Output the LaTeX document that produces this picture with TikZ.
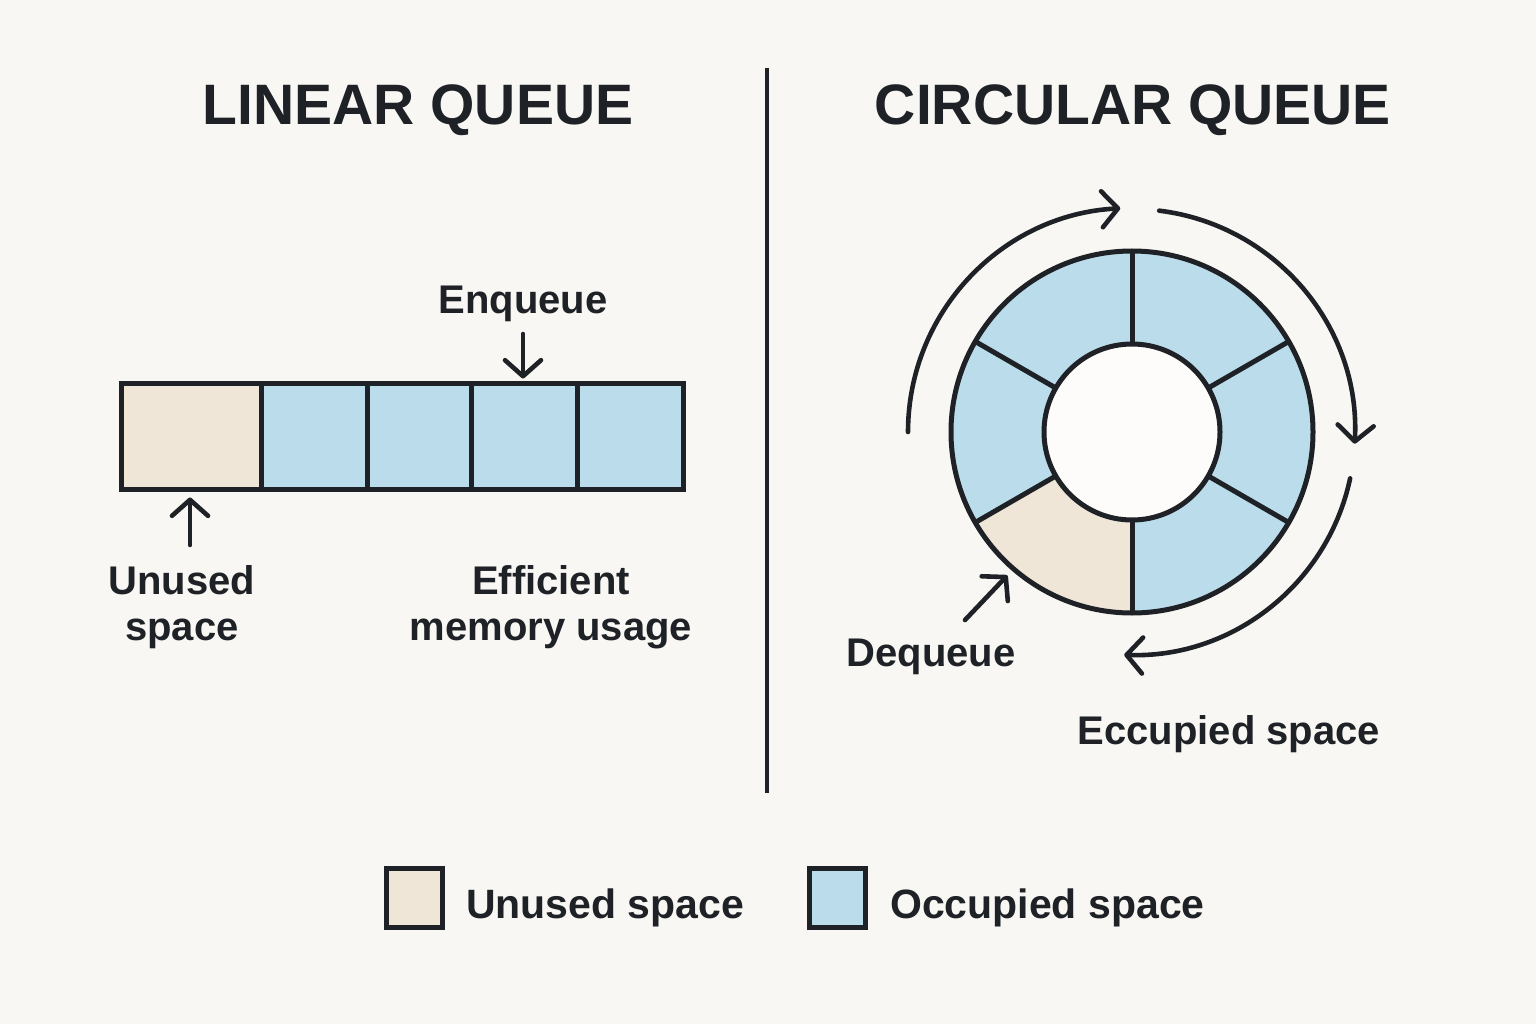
\documentclass[tikz,border=0pt]{standalone}
\usepackage{fontspec}
\setmainfont{Liberation Sans}
\usetikzlibrary{arrows.meta,calc}
\definecolor{bg}{HTML}{F9F7F3}
\definecolor{ink}{HTML}{1E2226}
\definecolor{unusedc}{HTML}{EFE6D8}
\definecolor{occc}{HTML}{BBDCEA}
\begin{document}
\begin{tikzpicture}[x=1pt,y=1pt,
  ln/.style={draw=ink,line width=5pt},
  arr/.style={draw=ink,line width=4.6pt,line cap=round,-{Straight Barb[length=16pt,width=36pt,round]}},
  cell/.style={draw=ink,line width=5pt,minimum height=106pt,inner sep=0pt},
  ttl/.style={font=\bfseries\fontsize{57}{60}\selectfont,text=ink,anchor=base},
  lbl/.style={font=\bfseries\fontsize{40}{46}\selectfont,text=ink,align=center},
  legbox/.style={draw=ink,line width=5pt,minimum width=56pt,minimum height=59pt,inner sep=0pt}]
\fill[bg] (0,0) rectangle (1536,-1024);
\useasboundingbox (0,0) rectangle (1536,-1024);

% titles and divider
\node[ttl] (t1) at (418,-125) {LINEAR QUEUE};
\node[ttl] (t2) at (1133,-125) {CIRCULAR QUEUE};
\coordinate (d1) at (767,-68);
\coordinate (d2) at (767,-793);
\draw[draw=ink,line width=3.5pt] (d1) -- (d2);

% linear queue
\node[cell,fill=unusedc,minimum width=140pt] (c1) at (191,-436) {};
\node[cell,fill=occc,minimum width=106pt] (c2) at (314,-436) {};
\node[cell,fill=occc,minimum width=104pt] (c3) at (419,-436) {};
\node[cell,fill=occc,minimum width=106pt] (c4) at (524,-436) {};
\node[cell,fill=occc,minimum width=106pt] (c5) at (630,-436) {};

\node[lbl,anchor=base] (enq) at (523,-313) {Enqueue};
\coordinate (enqA) at (523,-334);
\draw[arr] (enqA) -- ($(c4.north)+(-1,2)$);

\node[lbl] (uns) at (182,-607) {Unused\\space};
\coordinate (unsA) at (190,-545);
\draw[arr] (unsA) -- ($(c1.south)+(-1,-6)$);

\node[lbl] (eff) at (551,-607) {Efficient\\memory usage};

% circular queue
\coordinate (C) at (1132,-432);
\foreach \a/\b/\col in {30/90/occc,-30/30/occc,-90/-30/occc,-150/-90/unusedc,150/210/occc,90/150/occc}
  \fill[fill=\col] ($(C)+(\a:181)$) arc[start angle=\a,end angle=\b,radius=181]
     -- ($(C)+(\b:88)$) arc[start angle=\b,end angle=\a,radius=88] -- cycle;
\fill[fill=white!60!bg] (C) circle[radius=88];
\foreach \a in {90,30,-30,-90,-150,150}
  \draw[ln] ($(C)+(\a:88)$) -- ($(C)+(\a:181)$);
\draw[ln] (C) circle[radius=181];
\draw[ln] (C) circle[radius=88];

\draw[arr] ($(C)+(180:224)$) arc[start angle=180,end angle=93,radius=224];
\draw[arr] ($(C)+(83:223)$) arc[start angle=83,end angle=-3,radius=223];
\draw[arr] ($(C)+(-12:223)$) arc[start angle=-12,end angle=-92,radius=223];

\node[lbl,anchor=base] (deq) at (931,-666) {Dequeue};
\coordinate (deqS) at (965,-620);
\coordinate (deqT) at ($(C)+(229:190)$);
\draw[arr] (deqS) -- (deqT);

\node[lbl,anchor=base] (ecc) at (1229,-744) {Eccupied space};

% legend
\node[legbox,fill=unusedc] (lb1) at (414,-897.5) {};
\node[lbl,anchor=base west,inner sep=0pt,font=\bfseries\fontsize{41}{46}\selectfont] (lt1) at (466,-918) {Unused space};
\node[legbox,fill=occc] (lb2) at (837.5,-897.5) {};
\node[lbl,anchor=base west,inner sep=0pt,font=\bfseries\fontsize{41}{46}\selectfont] (lt2) at (890,-918) {Occupied space};
\end{tikzpicture}
\end{document}
